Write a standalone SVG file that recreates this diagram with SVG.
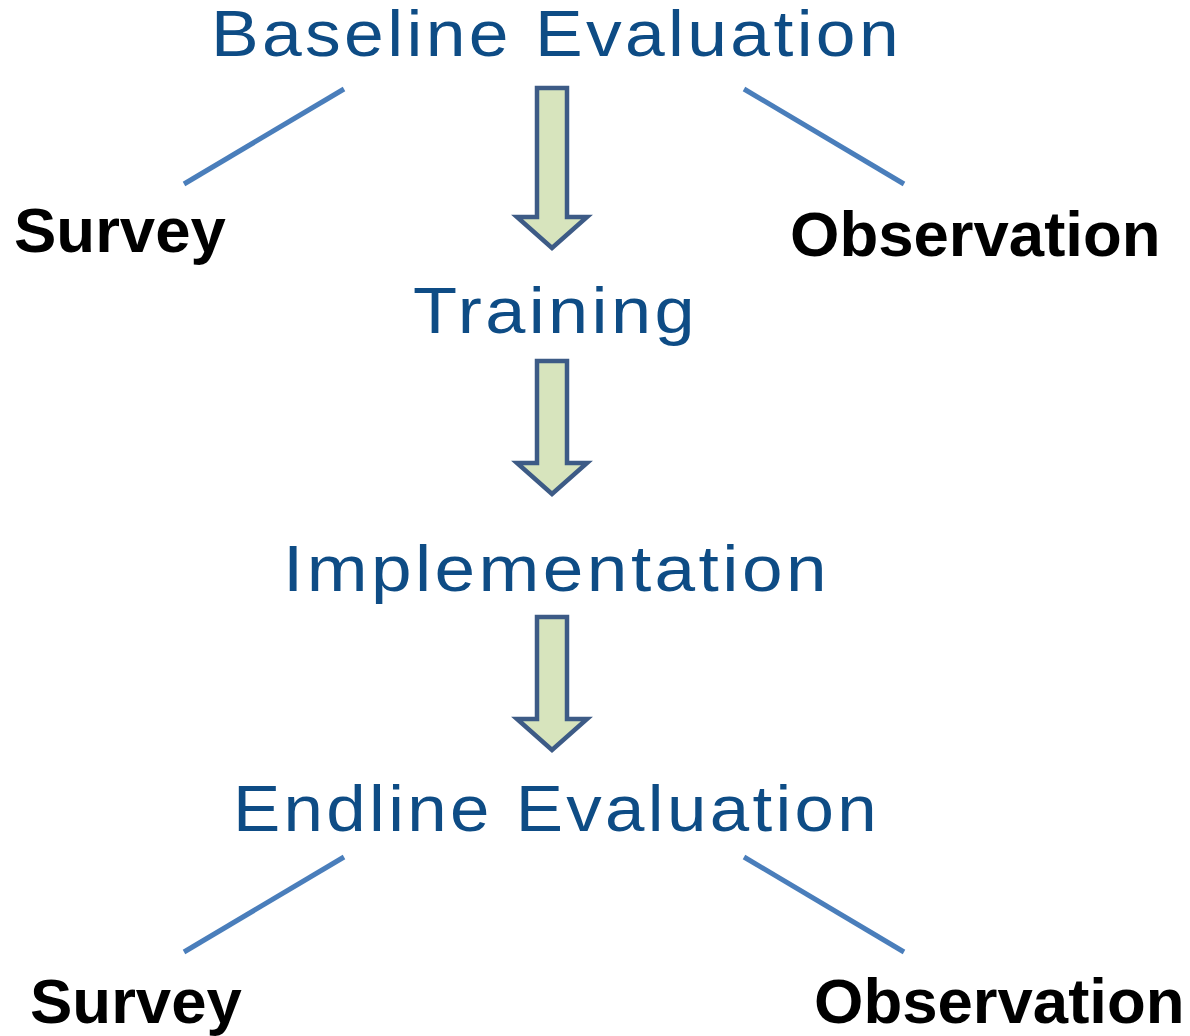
<svg xmlns="http://www.w3.org/2000/svg" width="1190" height="1036" viewBox="0 0 1190 1036">
<style>
.stage{font-family:"Liberation Sans",Arial,sans-serif;font-size:64px;fill:#0E4C85;letter-spacing:3px}
.sub{font-family:"Liberation Sans",Arial,sans-serif;font-size:63.5px;font-weight:bold;fill:#000}
.link{stroke:#4A7EBB;stroke-width:5;fill:none}
.arrow{fill:#D7E4BD;stroke:#3D5B86;stroke-width:4.5;stroke-linejoin:miter}
</style>
<rect width="1190" height="1036" fill="#fff"/>
<g id="connectors">
<line class="link" x1="344" y1="89" x2="184" y2="184"/>
<line class="link" x1="744" y1="89" x2="904" y2="184"/>
<line class="link" x1="344" y1="857" x2="184" y2="952"/>
<line class="link" x1="744" y1="857" x2="904" y2="952"/>
<path class="arrow" d="M537,88 H567 V217 H587 L552,248 L517,217 H537 Z"/>
<path class="arrow" d="M537,361 H567 V463 H587 L552,494 L517,463 H537 Z"/>
<path class="arrow" d="M537,617 H567 V719 H587 L552,750 L517,719 H537 Z"/>
</g>
<g id="baseline"><text class="stage" x="211" y="56" textLength="691" lengthAdjust="spacingAndGlyphs">Baseline Evaluation</text></g>
<g id="training"><text class="stage" x="413" y="333" textLength="285" lengthAdjust="spacingAndGlyphs">Training</text></g>
<g id="implementation"><text class="stage" x="283" y="591" textLength="547" lengthAdjust="spacingAndGlyphs">Implementation</text></g>
<g id="endline"><text class="stage" x="233" y="831" textLength="647" lengthAdjust="spacingAndGlyphs">Endline Evaluation</text></g>
<g id="survey1"><text class="sub" x="14" y="252">Survey</text></g>
<g id="observation1"><text class="sub" x="790" y="256">Observation</text></g>
<g id="survey2"><text class="sub" x="30" y="1023">Survey</text></g>
<g id="observation2"><text class="sub" x="814" y="1023">Observation</text></g>
</svg>
